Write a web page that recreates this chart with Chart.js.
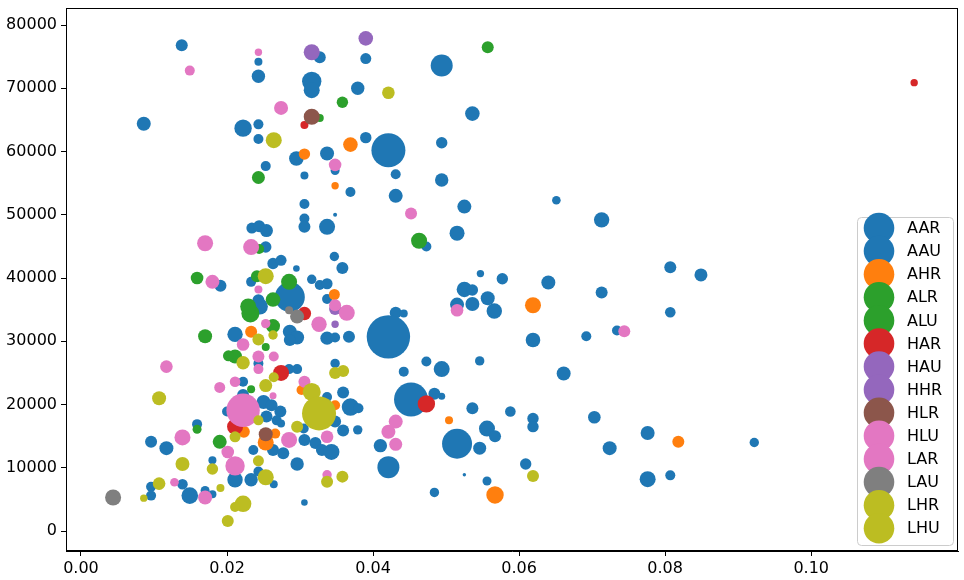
<!DOCTYPE html>
<html>
<head>
<meta charset="utf-8">
<script src="https://cdn.jsdelivr.net/npm/chart.js@4.4.1/dist/chart.umd.min.js"></script>
<style>
  html, body { margin: 0; padding: 0; background: #fff; }
  #wrap { width: 964px; height: 580px; }
</style>
</head>
<body>
<div id="wrap"><canvas id="chart" width="964" height="580"></canvas></div>
<script>
// series names, in legend order
const SERIES = ['AAR', 'AAU', 'AHR', 'ALR', 'ALU', 'HAR', 'HAU', 'HHR', 'HLR', 'HLU', 'LAR', 'LAU', 'LHR', 'LHU'];

// points: [x, y, marker size]
const AAR = [
  [0.0138, 76800, 6], [0.0243, 74200, 4], [0.0243, 71900, 6.7], [0.0086, 64400, 7], [0.0222, 63700, 8.7],
  [0.0243, 64300, 5], [0.0243, 62000, 5], [0.0253, 57700, 5], [0.0327, 74900, 6], [0.0390, 74700, 5.5],
  [0.0494, 73600, 11], [0.0316, 71100, 9.7], [0.0316, 69700, 8], [0.0379, 70000, 6.7], [0.0536, 66000, 7.3],
  [0.0390, 62200, 5.7], [0.0421, 60200, 17], [0.0295, 58900, 7.3], [0.0337, 59700, 7], [0.0494, 61400, 5.7],
  [0.0348, 57000, 4.5], [0.0306, 56200, 4], [0.0431, 56400, 5], [0.0494, 55500, 6.7], [0.0369, 53600, 5],
  [0.0431, 53000, 7], [0.0306, 51700, 5], [0.0525, 51300, 7], [0.0651, 52300, 4.3], [0.0713, 49200, 7.7],
  [0.0807, 41700, 6], [0.0849, 40500, 6.5], [0.0547, 40700, 3.7], [0.0577, 39900, 5.7], [0.0640, 39300, 7],
  [0.0713, 37700, 6], [0.0557, 36800, 7], [0.0306, 49400, 5], [0.0348, 50000, 2], [0.0306, 48100, 6],
  [0.0337, 48100, 8], [0.0234, 47900, 5.5], [0.0244, 48200, 6], [0.0254, 47500, 6.5], [0.0253, 44900, 5.7],
  [0.0347, 43400, 4.7], [0.0358, 41600, 6], [0.0263, 42300, 5.7], [0.0274, 42800, 5.5], [0.0295, 41500, 3.3],
  [0.0316, 39800, 4.7], [0.0327, 38900, 5], [0.0337, 39100, 5.5], [0.0337, 36700, 5], [0.0286, 37000, 15],
  [0.0243, 36500, 6], [0.0245, 35500, 8], [0.0286, 31500, 7], [0.0296, 30600, 7], [0.0286, 30200, 6],
  [0.0337, 30500, 6.7], [0.0348, 30600, 5], [0.0367, 30700, 6], [0.0233, 39400, 5], [0.0191, 38800, 6],
  [0.0211, 31100, 7.7], [0.0243, 26500, 5], [0.0515, 47100, 7.5], [0.0473, 45000, 5], [0.0525, 38200, 7.7],
  [0.0536, 38100, 5.7], [0.0515, 35800, 7], [0.0536, 35900, 7], [0.0566, 34800, 7.7], [0.0431, 34500, 6],
  [0.0442, 34400, 4]
];
const AAU = [
  [0.0421, 30700, 21.7], [0.0473, 26800, 5], [0.0494, 25600, 8], [0.0546, 26900, 4.7], [0.0442, 25200, 5],
  [0.0452, 20800, 17], [0.0484, 21700, 6], [0.0494, 21300, 3.5], [0.0536, 19400, 6], [0.0588, 18900, 5.3],
  [0.0369, 19600, 8.7], [0.0380, 19400, 5], [0.0359, 21900, 6], [0.0359, 15900, 6], [0.0379, 16000, 4.7],
  [0.0410, 13500, 6.7], [0.0421, 10100, 11], [0.0515, 13800, 15], [0.0546, 13100, 6.5], [0.0556, 16200, 8],
  [0.0567, 15000, 6], [0.0525, 8900, 1.7], [0.0556, 7900, 4.5], [0.0484, 6100, 4.7], [0.0807, 34600, 5.3],
  [0.0619, 30200, 7.3], [0.0692, 30800, 5], [0.0734, 31700, 5], [0.0661, 24900, 7], [0.0619, 17800, 5.7],
  [0.0619, 16500, 5.7], [0.0703, 18000, 6.3], [0.0776, 15500, 7], [0.0922, 14000, 4.7], [0.0724, 13100, 7],
  [0.0609, 10600, 5.7], [0.0776, 8200, 8], [0.0807, 8800, 5], [0.0200, 18900, 5], [0.0159, 16900, 5],
  [0.0096, 14100, 6], [0.0117, 13100, 7], [0.0180, 11200, 4], [0.0211, 8100, 7.7], [0.0233, 8100, 6.7],
  [0.0096, 7000, 5], [0.0096, 5600, 5], [0.0139, 7400, 5.3], [0.0149, 5600, 8.3], [0.0170, 6400, 4.5],
  [0.0180, 5800, 4], [0.0222, 23600, 5], [0.0285, 25600, 5], [0.0296, 25600, 5], [0.0273, 18900, 6],
  [0.0250, 20400, 7], [0.0261, 19900, 6], [0.0254, 18100, 6], [0.0268, 17500, 5], [0.0222, 21500, 6],
  [0.0274, 17000, 4], [0.0236, 12800, 5], [0.0263, 12800, 6], [0.0277, 12300, 6], [0.0243, 9400, 5],
  [0.0305, 16200, 5], [0.0306, 14400, 6], [0.0321, 13900, 6], [0.0330, 12800, 6], [0.0343, 12500, 8],
  [0.0348, 17300, 6], [0.0337, 21200, 5], [0.0348, 26500, 4.7], [0.0296, 10600, 6.7], [0.0264, 7400, 4],
  [0.0306, 4500, 3.3]
];
const AHR = [
  [0.0306, 59600, 5.7], [0.0369, 61100, 7.3], [0.0348, 54600, 3.7], [0.0619, 35700, 8], [0.0347, 37400, 5.5],
  [0.0233, 31500, 6], [0.0223, 15700, 6], [0.0253, 14000, 8], [0.0266, 15400, 5], [0.0302, 22300, 5],
  [0.0348, 19900, 5], [0.0504, 17500, 4], [0.0818, 14100, 6], [0.0567, 5700, 8.7]
];
const ALR = [
  [0.0243, 55900, 6.5], [0.0557, 76500, 6], [0.0358, 67800, 5.7], [0.0327, 65300, 4], [0.0463, 45900, 8],
  [0.0159, 40000, 6.3], [0.0241, 40300, 6], [0.0244, 44600, 5], [0.0285, 39400, 8], [0.0232, 34400, 9]
];
const ALU = [
  [0.0229, 35500, 8], [0.0170, 30800, 7], [0.0263, 36600, 7.3], [0.0263, 32400, 7], [0.0211, 27600, 7],
  [0.0202, 27700, 5.5], [0.0253, 29100, 4], [0.0233, 22400, 4], [0.0159, 16100, 4.5], [0.0190, 14100, 7]
];
const HAR = [
  [0.1141, 70900, 3.7], [0.0306, 64200, 4], [0.0306, 34400, 6.7], [0.0211, 16500, 8], [0.0274, 25000, 8],
  [0.0473, 20100, 8.7]
];
const HAU = [[0.0390, 77900, 7.3], [0.0316, 75700, 8]];
const HHR = [[0.0348, 35100, 6], [0.0348, 32700, 3.7]];
const HLR = [[0.0316, 65500, 8], [0.0253, 15300, 7]];
const HLU = [
  [0.0243, 75700, 3.7], [0.0149, 72800, 5], [0.0274, 66900, 7], [0.0348, 57900, 6.3], [0.0452, 50200, 6],
  [0.0170, 45500, 8], [0.0233, 44900, 8], [0.0180, 39400, 7], [0.0348, 35700, 6], [0.0364, 34500, 8],
  [0.0326, 32700, 7.7], [0.0243, 38200, 4], [0.0253, 32800, 4.7], [0.0222, 29500, 6.3], [0.0243, 27600, 6],
  [0.0243, 25600, 5], [0.0264, 27600, 5], [0.0117, 26000, 6.3]
];
const LAR = [
  [0.0515, 34900, 6.3], [0.0744, 31600, 6], [0.0190, 22700, 5.5], [0.0211, 23600, 5.3], [0.0222, 19100, 16.7],
  [0.0139, 14800, 8], [0.0201, 12500, 6.3], [0.0211, 10300, 9.7], [0.0128, 7700, 4.3], [0.0170, 5300, 7],
  [0.0263, 21400, 3.5], [0.0285, 14400, 8], [0.0306, 23600, 6], [0.0337, 14900, 6.3], [0.0337, 8900, 4.7],
  [0.0431, 17300, 7], [0.0421, 15700, 7], [0.0431, 13700, 6.5]
];
const LAU = [[0.0044, 5300, 8], [0.0285, 34900, 4], [0.0296, 33900, 7]];
const LHR = [
  [0.0421, 69300, 6.3], [0.0264, 61800, 8], [0.0253, 40300, 8], [0.0243, 30300, 6], [0.0222, 26600, 6.7],
  [0.0263, 31000, 4.7], [0.0359, 25300, 6], [0.0348, 25000, 6], [0.0107, 21000, 7], [0.0211, 14900, 5.5],
  [0.0180, 9800, 5.7], [0.0139, 10600, 7], [0.0107, 7500, 6.3], [0.0191, 6800, 4], [0.0086, 5200, 3.7]
];
const LHU = [
  [0.0222, 4300, 8.3], [0.0211, 3800, 5], [0.0201, 1600, 6], [0.0264, 24300, 5], [0.0253, 23000, 6.5],
  [0.0243, 17500, 5], [0.0296, 16500, 6], [0.0243, 11100, 5.5], [0.0253, 8500, 8], [0.0316, 22000, 9],
  [0.0326, 18600, 17], [0.0337, 7800, 6], [0.0358, 8600, 6], [0.0619, 8700, 6]
];

const X_TICKS = [0, 0.02, 0.04, 0.06, 0.08, 0.10];
const Y_TICKS = [0, 10000, 20000, 30000, 40000, 50000, 60000, 70000, 80000];

const POINTS = { AAR, AAU, AHR, ALR, ALU, HAR, HAU, HHR, HLR, HLU, LAR, LAU, LHR, LHU };
const COLORS = {
  AAR: '#1f77b4', AAU: '#1f77b4', AHR: '#ff7f0e', ALR: '#2ca02c', ALU: '#2ca02c',
  HAR: '#d62728', HAU: '#9467bd', HHR: '#9467bd', HLR: '#8c564b', HLU: '#e377c2',
  LAR: '#e377c2', LAU: '#7f7f7f', LHR: '#bcbd22', LHU: '#bcbd22',
};
const FONT = { family: "'DejaVu Sans', sans-serif", size: 16 };

// matplotlib draws later series on top; chart.js draws low `order` last
const datasets = SERIES.map((name, i) => ({
  label: name,
  data: POINTS[name].map(p => ({ x: p[0], y: p[1], r: p[2] })),
  backgroundColor: COLORS[name],
  borderWidth: 0,
  hoverRadius: 0,
  order: SERIES.length - i,
}));

// frame on all four sides + boxed legend in the lower right
const framePlugin = {
  id: 'frame',
  afterDatasetsDraw(chart) {
    const { ctx, chartArea: a } = chart;
    ctx.save();
    ctx.strokeStyle = '#000';
    ctx.lineWidth = 1;
    ctx.strokeRect(a.left + 0.5, a.top + 0.5, a.right - a.left - 1, a.bottom - a.top - 1);

    const boxR = a.right - 5, boxB = a.bottom - 6, boxL = boxR - 96, boxT = boxB - 328;
    ctx.fillStyle = 'rgba(255,255,255,0.8)';
    ctx.strokeStyle = '#cccccc';
    ctx.beginPath();
    ctx.roundRect(boxL + 0.5, boxT + 0.5, boxR - boxL, boxB - boxT, 4);
    ctx.fill();
    ctx.stroke();

    ctx.font = `16px ${FONT.family}`;
    ctx.textBaseline = 'middle';
    chart.data.datasets.forEach((ds, i) => {
      const cy = boxT + 11 + i * 23.1;
      ctx.fillStyle = ds.backgroundColor;
      ctx.beginPath();
      ctx.arc(boxL + 22, cy, 15.3, 0, Math.PI * 2);
      ctx.fill();
    });
    ctx.fillStyle = '#000';
    chart.data.datasets.forEach((ds, i) => {
      ctx.fillText(ds.label, boxL + 50, boxT + 12 + i * 23.1);
    });
    ctx.restore();
  },
};

new Chart(document.getElementById('chart'), {
  type: 'bubble',
  data: { datasets },
  options: {
    responsive: false,
    animation: false,
    events: [],
    layout: { autoPadding: false, padding: { left: 0, right: 6, top: 8, bottom: 0 } },
    plugins: { legend: { display: false }, tooltip: { enabled: false } },
    scales: {
      x: {
        type: 'linear', min: -0.00205, max: 0.1201,
        afterBuildTicks: s => { s.ticks = X_TICKS.map(v => ({ value: v })); },
        afterFit: s => { s.height = 29; s.paddingLeft = 0; s.paddingRight = 0; },
        ticks: { color: '#000', font: FONT, padding: 3, maxRotation: 0, autoSkip: false,
                 callback: v => v.toFixed(2) },
        grid: { drawOnChartArea: false, color: '#000', tickLength: 5 },
        border: { color: '#000', width: 1 },
      },
      y: {
        type: 'linear', min: -3160, max: 82700,
        afterBuildTicks: s => { s.ticks = Y_TICKS.map(v => ({ value: v })); },
        afterFit: s => { s.width = 66; s.paddingTop = 0; s.paddingBottom = 0; },
        ticks: { color: '#000', font: FONT, padding: 4, autoSkip: false,
                 callback: v => String(v) },
        grid: { drawOnChartArea: false, color: '#000', tickLength: 5 },
        border: { color: '#000', width: 1 },
      },
    },
  },
  plugins: [framePlugin],
});
</script>
</body>
</html>
